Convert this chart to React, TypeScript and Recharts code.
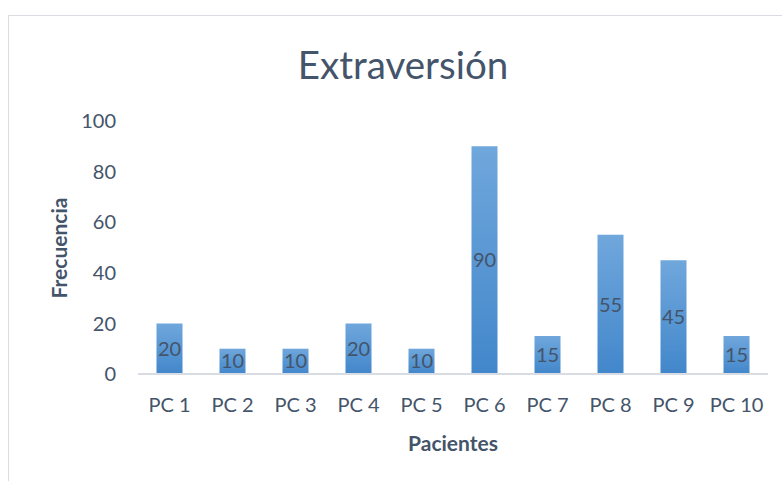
import React from "react";
import { BarChart, Bar, XAxis, YAxis, LabelList } from "recharts";

const categories = ["PC 1", "PC 2", "PC 3", "PC 4", "PC 5", "PC 6", "PC 7", "PC 8", "PC 9", "PC 10"];
const frecuencia = [20, 10, 10, 20, 10, 90, 15, 55, 45, 15];
const yTicks = [0, 20, 40, 60, 80, 100];

const data = categories.map((c, i) => ({ name: c, value: frecuencia[i] }));

const FONT = "Lato, 'Open Sans', sans-serif";
const TEXT = "#44546A";

export default function App() {
  return (
    <div style={{ position: "absolute", left: 0, top: 0, width: 782, height: 481, background: "#fff", overflow: "hidden", fontFamily: FONT }}>
      <div style={{ position: "absolute", left: 8, top: 15, width: 800, height: 500, borderLeft: "1.5px solid #D9DDE3", borderTop: "1.5px solid #D9DDE3" }} />
      <div style={{ position: "absolute", left: 0, width: 806, top: 40, textAlign: "center", fontSize: 38.5, color: TEXT, lineHeight: "48px" }}>
        Extraversión
      </div>
      <div style={{ position: "absolute", left: 58, top: 248, transform: "translate(-50%, -50%) rotate(-90deg)", fontSize: 21, fontWeight: 700, color: TEXT, whiteSpace: "nowrap" }}>
        Frecuencia
      </div>
      <div style={{ position: "absolute", left: 453, top: 442, transform: "translate(-50%, -50%)", fontSize: 21, fontWeight: 700, color: TEXT, whiteSpace: "nowrap" }}>
        Pacientes
      </div>
      <div style={{ position: "absolute", left: 0, top: 0 }}>
        <BarChart width={782} height={481} data={data} margin={{ top: 121, right: 14, bottom: 67, left: 78 }} barCategoryGap={18.5}>
          <defs>
            <linearGradient id="barGrad" x1="0" y1="0" x2="0" y2="1">
              <stop offset="0%" stopColor="#70A7DC" />
              <stop offset="100%" stopColor="#4287CB" />
            </linearGradient>
          </defs>
          <XAxis
            dataKey="name"
            axisLine={{ stroke: "#D9DDE3", strokeWidth: 2 }}
            tickLine={false}
            height={40}
            tickMargin={18}
            tick={{ fill: TEXT, fontSize: 20, fontFamily: FONT }}
            interval={0}
          />
          <YAxis
            width={60}
            domain={[0, 100]}
            ticks={yTicks}
            axisLine={false}
            tickLine={false}
            tickMargin={16}
            tick={{ fill: TEXT, fontSize: 20, fontFamily: FONT }}
          />
          <Bar dataKey="value" fill="url(#barGrad)" isAnimationActive={false}>
            <LabelList dataKey="value" position="center" fill={TEXT} fontSize={20} fontFamily={FONT} />
          </Bar>
        </BarChart>
      </div>
    </div>
  );
}
